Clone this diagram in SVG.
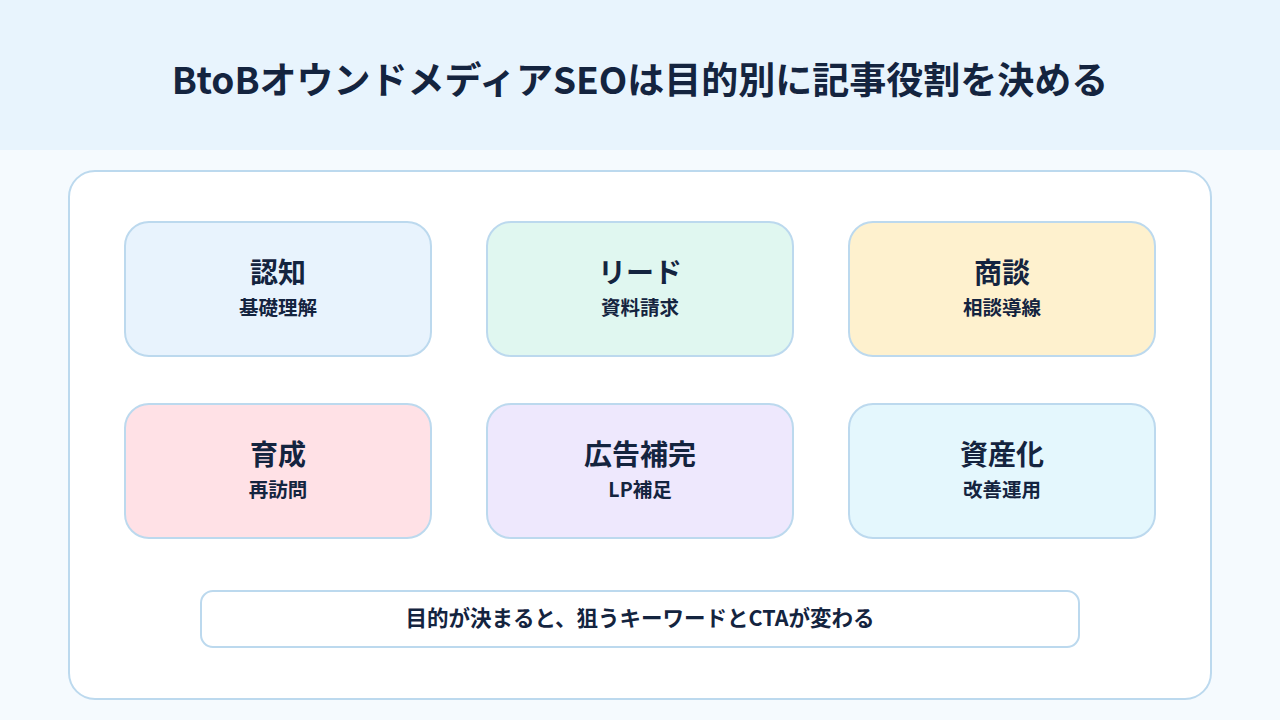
<svg xmlns="http://www.w3.org/2000/svg" width="1280" height="720" viewBox="0 0 1280 720">
<style>
text{font-family:"Noto Sans CJK JP","Noto Sans",sans-serif;fill:#14243F;text-anchor:middle;font-weight:700}
.card{stroke:#BCD9EE;stroke-width:2}
.t{font-size:28px}
.s{font-size:19.5px}
</style>
<rect x="0" y="0" width="1280" height="720" fill="#F5FAFE"/>
<rect x="0" y="0" width="1280" height="150" fill="#E8F4FD"/>
<text x="640" y="94" font-size="37">BtoBオウンドメディアSEOは目的別に記事役割を決める</text>
<rect x="69" y="171" width="1142" height="528" rx="26" fill="#FFFFFF" stroke="#BCD9EE" stroke-width="2"/>
<g id="n1"><rect class="card" x="125" y="222" width="306" height="134" rx="24" fill="#E8F3FD"/><text class="t" x="278" y="283">認知</text><text class="s" x="278" y="315">基礎理解</text></g>
<g id="n2"><rect class="card" x="487" y="222" width="306" height="134" rx="24" fill="#E0F7F0"/><text class="t" x="640" y="283">リード</text><text class="s" x="640" y="315">資料請求</text></g>
<g id="n3"><rect class="card" x="849" y="222" width="306" height="134" rx="24" fill="#FEF1CE"/><text class="t" x="1002" y="283">商談</text><text class="s" x="1002" y="315">相談導線</text></g>
<g id="n4"><rect class="card" x="125" y="404" width="306" height="134" rx="24" fill="#FFE1E6"/><text class="t" x="278" y="465">育成</text><text class="s" x="278" y="497">再訪問</text></g>
<g id="n5"><rect class="card" x="487" y="404" width="306" height="134" rx="24" fill="#EEE8FD"/><text class="t" x="640" y="465">広告補完</text><text class="s" x="640" y="497">LP補足</text></g>
<g id="n6"><rect class="card" x="849" y="404" width="306" height="134" rx="24" fill="#E4F7FD"/><text class="t" x="1002" y="465">資産化</text><text class="s" x="1002" y="497">改善運用</text></g>
<g id="connectors"></g>
<g id="note"><rect x="201" y="591" width="878" height="56" rx="12" fill="#FFFFFF" stroke="#BCD9EE" stroke-width="2"/><text x="640" y="626" font-size="21.5">目的が決まると、狙うキーワードとCTAが変わる</text></g>
</svg>
